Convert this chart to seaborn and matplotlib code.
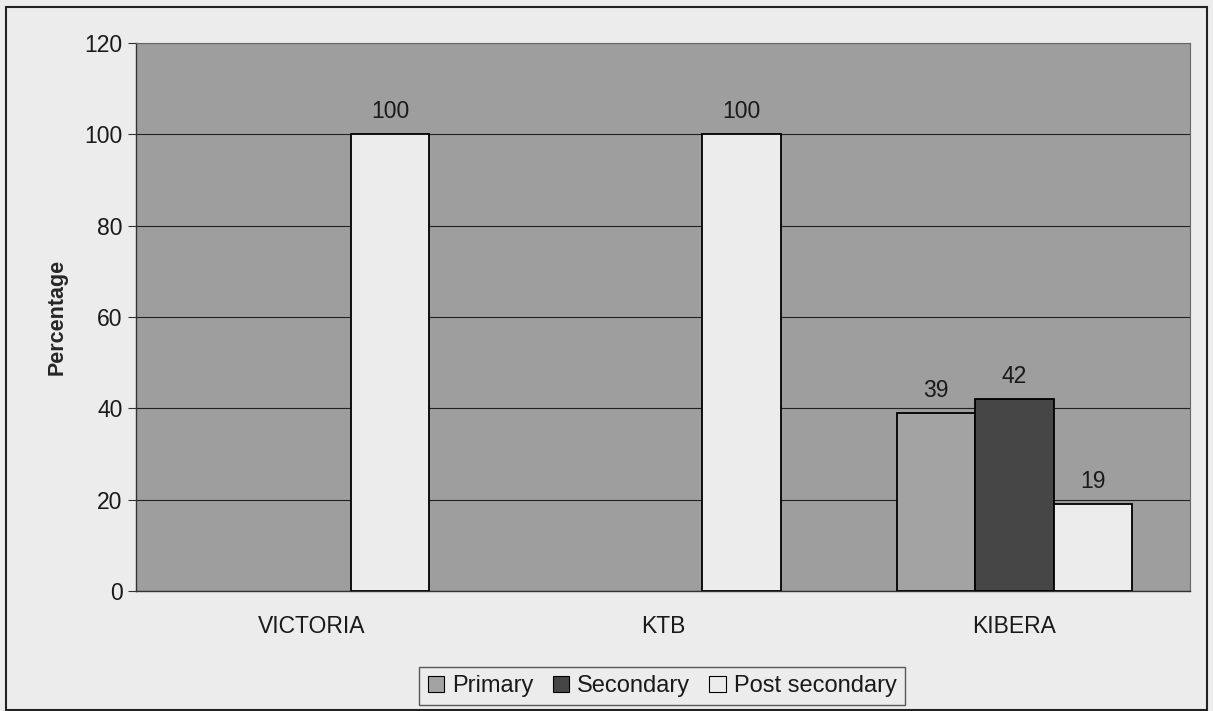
import matplotlib
matplotlib.use("Agg")
import matplotlib.pyplot as plt
import pandas as pd
import seaborn as sns

sites = ["VICTORIA", "KTB", "KIBERA"]
levels = ["Primary", "Secondary", "Post secondary"]
primary = [0, 0, 39]
secondary = [0, 0, 42]
post_secondary = [100, 100, 19]
level_colors = ["#a3a3a3", "#464646", "#ececec"]

df = pd.DataFrame({
    "site": sites * 3,
    "level": [levels[0]] * 3 + [levels[1]] * 3 + [levels[2]] * 3,
    "value": primary + secondary + post_secondary,
})

sns.set_style("white")
plt.rcParams["font.family"] = ["Liberation Sans", "DejaVu Sans"]
plt.rcParams["text.color"] = "#1a1a1a"

fig, ax = plt.subplots(figsize=(12.13, 7.11), dpi=100)
fig.patch.set_facecolor("#ececec")
fig.subplots_adjust(left=0.112, right=0.981, top=0.9395, bottom=0.1688)

sns.barplot(data=df, x="site", y="value", hue="level", order=sites, hue_order=levels,
            palette=level_colors, width=0.67, gap=0, edgecolor="black", linewidth=1.3,
            legend=False, ax=ax, zorder=3)

# hide outlines of empty bars
for cont in ax.containers:
    for b in cont:
        if b.get_height() == 0:
            b.set_linewidth(0)

ax.set_facecolor("#9e9e9e")
ax.set_ylim(0, 120)
ax.set_yticks(range(0, 121, 20))
ax.yaxis.grid(True, color="#222222", linewidth=0.8, zorder=0)
ax.set_axisbelow(True)
for side in ["top", "right"]:
    ax.spines[side].set_color("#666666")
    ax.spines[side].set_linewidth(0.8)
for side in ["left", "bottom"]:
    ax.spines[side].set_color("#333333")
    ax.spines[side].set_linewidth(1.0)
ax.tick_params(axis="y", left=True, length=6, width=0.8, labelsize=16.5, color="#333333",
               labelcolor="#1a1a1a")
ax.tick_params(axis="x", bottom=False, labelsize=16.5, pad=14, labelcolor="#1a1a1a")
ax.set_xlabel("")
ax.set_ylabel("Percentage", fontsize=15.5, fontweight="bold", labelpad=12)

# value labels, skip empty bars
for cont in ax.containers:
    labels = [f"{b.get_height():.0f}" if b.get_height() > 0 else "" for b in cont]
    ax.bar_label(cont, labels=labels, padding=8, fontsize=16.5)

handles = [plt.Rectangle((0, 0), 1, 1, facecolor=c, edgecolor="black", linewidth=0.8)
           for c in level_colors]
leg = fig.legend(handles, levels, loc="lower center", bbox_to_anchor=(0.546, 0.008), ncol=3,
                 fontsize=17, frameon=True, fancybox=False, edgecolor="#333333",
                 handlelength=0.7, handleheight=0.7, handletextpad=0.35, columnspacing=0.8,
                 borderpad=0.35, borderaxespad=0)
leg.get_frame().set_facecolor("#ececec")
leg.get_frame().set_linewidth(1.0)

# outer chart border
fig.add_artist(plt.Rectangle((0.005, 0.002), 0.99, 0.988, transform=fig.transFigure,
                             fill=False, edgecolor="#222222", linewidth=1.5))

fig.savefig("out.png", dpi=100, facecolor=fig.get_facecolor())
